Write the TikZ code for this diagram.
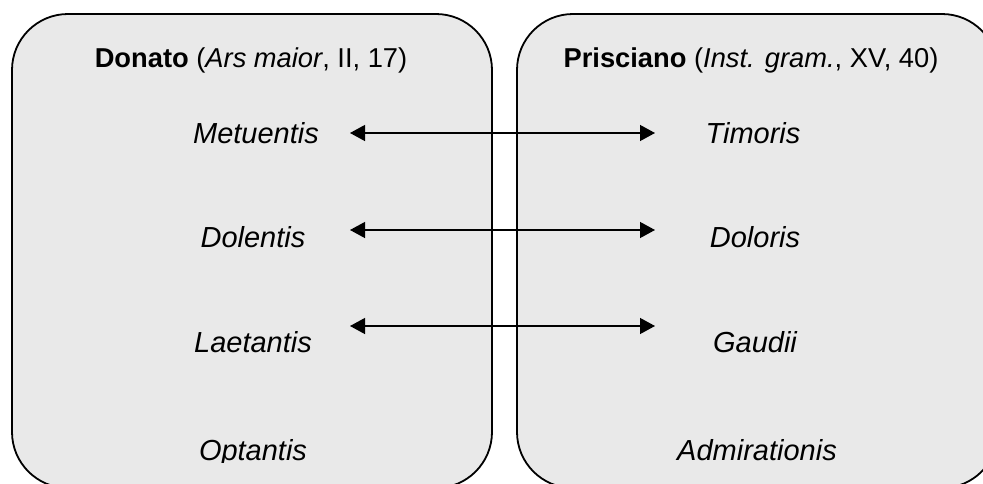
\documentclass[tikz,border=0pt]{standalone}
\usepackage{fontspec}
\setmainfont{Liberation Sans}
\usetikzlibrary{arrows.meta}
\definecolor{panelgray}{HTML}{E9E9E9}
\begin{document}
\begin{tikzpicture}[x=1pt,y=-1pt,
  panel/.style={draw=black, line width=1.8pt, fill=panelgray, rounded corners=56pt},
  lbl/.style={anchor=base, inner sep=0pt, font=\fontsize{27.3pt}{33pt}\selectfont},
  item/.style={anchor=base, inner sep=0pt, font=\fontsize{29pt}{35pt}\selectfont\itshape},
  biarrow/.style={line width=1.3pt, {Triangle[length=15pt,width=16pt]}-{Triangle[length=15pt,width=16pt]}}]
\useasboundingbox (0,0) rectangle (983,483);
\clip (0,0) rectangle (983,483);
\draw[panel] (12,14) rectangle (492,488);
\draw[panel] (517,14) rectangle (998,488);
% headers
\node[lbl] (hl) at (251,67) {\textbf{Donato} (\textit{Ars maior}, II, 17)};
\node[lbl] (hr) at (751,67) {\textbf{Prisciano} (\textit{Inst. gram.}, XV, 40)};
% left column
\node[item] (l1) at (256,143) {Metuentis};
\node[item] (l2) at (253,247) {Dolentis};
\node[item] (l3) at (253,352) {Laetantis};
\begin{scope}
\clip (0,0) rectangle (983,462);
\node[item] (l4) at (253,460) {Optantis};
\end{scope}
% right column
\node[item] (r1) at (753,143) {Timoris};
\node[item] (r2) at (755,247) {Doloris};
\node[item] (r3) at (755,352) {Gaudii};
\node[item] (r4) at (757,460) {Admirationis};
% arrows
\coordinate (a1l) at (350,133); \coordinate (a1r) at (655,133);
\coordinate (a2l) at (350,230); \coordinate (a2r) at (655,230);
\coordinate (a3l) at (350,326); \coordinate (a3r) at (655,326);
\draw[biarrow] (a1l) -- (a1r);
\draw[biarrow] (a2l) -- (a2r);
\draw[biarrow] (a3l) -- (a3r);
\end{tikzpicture}
\end{document}
